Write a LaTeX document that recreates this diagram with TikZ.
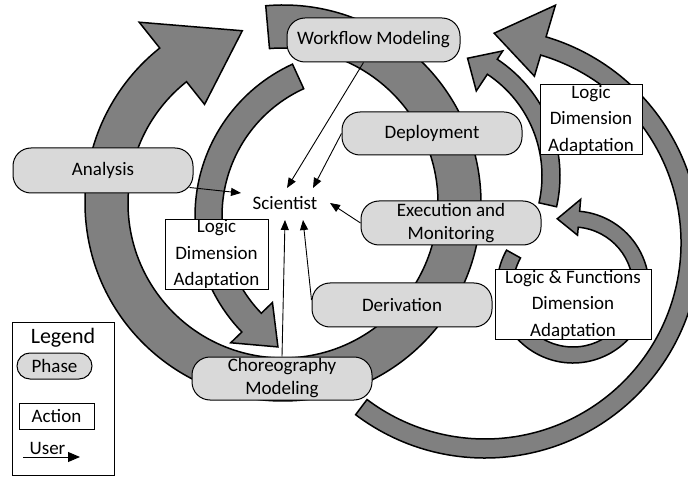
\documentclass[tikz,border=0pt]{standalone}
\usepackage{fontspec}
\setmainfont{Carlito}
\usetikzlibrary{arrows.meta}
\definecolor{arrowgray}{HTML}{808080}
\definecolor{phasegray}{HTML}{D9D9D9}
\begin{document}
\begin{tikzpicture}[x=1pt,y=1pt,
  bigarrow/.style={fill=arrowgray, draw=black, line width=1.5pt, line join=miter},
  phase/.style={draw=black, line width=1pt, fill=phasegray, rounded corners=18pt, inner sep=0pt, align=center, font=\fontsize{19}{23}\selectfont},
  action/.style={draw=black, line width=0.9pt, fill=white, inner sep=0pt, align=center, font=\fontsize{19}{26.5}\selectfont},
  txt/.style={align=center, inner sep=0pt, font=\fontsize{19}{23}\selectfont},
  user/.style={draw=black, line width=0.9pt, -{Triangle[length=10pt,width=8pt]}},
]
\useasboundingbox (0,0) rectangle (688,477);

% big circular arrow (A)
\begin{scope}[shift={(283,274)}]
\draw[bigarrow] (95:198) arc[start angle=95,end angle=-231.5,radius=198]
  -- (-231.5:231) -- (-256.7:177) -- (-231.5:126) -- (-231.5:155)
  arc[start angle=-231.5,end angle=95,radius=155] -- cycle;
\end{scope}
% inner left arrow (F)
\begin{scope}[shift={(362,261)}]
\draw[bigarrow] (114.6:167) arc[start angle=114.6,end angle=224,radius=167]
  -- (224:182.5) -- (237.3:155.6) -- (224:124.5) -- (224:140)
  arc[start angle=224,end angle=114.6,radius=140] -- cycle;
\end{scope}
% outer right arrow (C)
\begin{scope}[shift={(485,234)}]
\draw[bigarrow] (-127:215) arc[start angle=-127,end angle=73.5,radius=215]
  -- (73.5:248) -- (87.5:210) -- (73.5:174) -- (73.5:196)
  arc[start angle=73.5,end angle=-127,radius=196] -- cycle;
\end{scope}
% medium right arrow (D)
\begin{scope}[shift={(420,301)}]
\draw[bigarrow] (-12.7:140) arc[start angle=-12.7,end angle=56.5,radius=140]
  -- (56.5:150) -- (68:127) -- (56.5:102) -- (56.5:122)
  arc[start angle=56.5,end angle=-12.7,radius=122] -- cycle;
\end{scope}
% small loop arrow (E)
\begin{scope}[shift={(573,190)}]
\draw[bigarrow] (151:76) arc[start angle=151,end angle=445,radius=76]
  -- (445:88) -- (463:70) -- (445:52) -- (445:60)
  arc[start angle=445,end angle=151,radius=60] -- cycle;
\end{scope}

% phases
\node[phase, minimum width=173, minimum height=44] (wf) at (373.5,437) {Workflow Modeling};
\node[phase, minimum width=180, minimum height=43] (dep) at (432,343.5) {Deployment};
\node[phase, minimum width=180, minimum height=44] (ex) at (451,254) {Execution and\\Monitoring};
\node[phase, minimum width=180, minimum height=44] (dr) at (402,172) {Derivation};
\node[phase, minimum width=180, minimum height=43] (ch) at (282,98.5) {Choreography\\Modeling};
\node[phase, minimum width=180, minimum height=45] (an) at (103,306.5) {Analysis};

% actions
\node[action, minimum width=103, minimum height=70] (lda1) at (216.5,223) {Logic\\Dimension\\Adaptation};
\node[action, minimum width=102, minimum height=69] (lda2) at (591,357.5) {Logic\\Dimension\\Adaptation};
\node[action, minimum width=156, minimum height=69] (lfa) at (573,172.5) {Logic \& Functions\\Dimension\\Adaptation};

% scientist
\node[txt] (sci) at (285,274) {Scientist};
\coordinate (tWF) at (287,289);
\coordinate (tDep) at (313,289);
\coordinate (tAn) at (241,284);
\coordinate (tEx) at (330,274);
\coordinate (tCh) at (285,257);
\coordinate (tDr) at (303,257);

\draw[user] ([xshift=-10pt]wf.south) -- (tWF);
\draw[user] (dep.west) -- (tDep);
\draw[user] ([shift={(-4pt,6pt)}]an.south east) -- (tAn);
\draw[user] (ex.west) -- (tEx);
\draw[user] (ch.north) -- (tCh);
\draw[user] ([yshift=5pt]dr.west) -- (tDr);

% legend
\node[action, minimum width=102, minimum height=153] (legend) at (63,78.5) {};
\node[inner sep=0pt, font=\fontsize{22}{26}\selectfont] (legendt) at (63,139) {Legend};
\node[phase, rounded corners=13pt, minimum width=75, minimum height=26] (lphase) at (54.5,111) {Phase};
\node[action, minimum width=75, minimum height=26] (laction) at (56.5,61) {Action};
\node[txt, anchor=base] (luser) at (47.5,23) {User};
\coordinate (lu1) at (23,20);
\coordinate (lu2) at (80,20);
\draw[draw=black, line width=0.9pt, -{Triangle[length=12pt,width=10pt]}] (lu1) -- (lu2);
\end{tikzpicture}
\end{document}
